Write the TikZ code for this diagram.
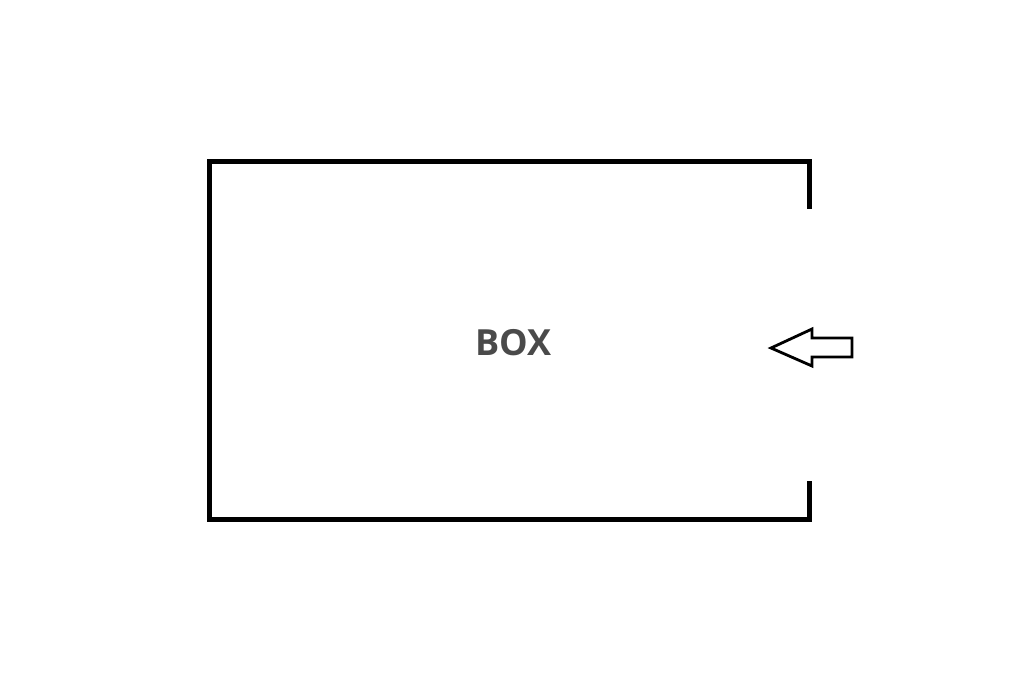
\documentclass[tikz,border=0pt]{standalone}
\usepackage{fontspec}
\setsansfont{Open Sans}
\usepackage{tikz}
\usetikzlibrary{positioning,calc}
\definecolor{labelgray}{HTML}{4A4A4A}
\tikzset{wall/.style={draw=black,line width=5.5pt,line cap=rect},
         pointer/.style={draw=black,line width=2.8pt,fill=white,line join=miter}}

\begin{document}
\begin{tikzpicture}[x=1pt, y=-1pt]
        \useasboundingbox (0,0) rectangle (1024,683);
        \coordinate (TR) at (809.5,161.5);
        \coordinate (TL) at (209.5,161.5);
        \coordinate (BL) at (209.5,519.5);
        \coordinate (BR) at (809.5,519.5);
        \node[font=\sffamily\bfseries\fontsize{36}{40}\selectfont,text=labelgray] (box) at (513.5,343) {BOX};
        \draw[wall] ($(TR)+(0,45)$) -- (TR) -- (TL) -- (BL) -- (BR) -- ($(BR)+(0,-36)$);
        \draw[pointer] (771,348) -- (812,329) -- (812,338) -- (852,338) -- (852,357) -- (812,357) -- (812,366) -- cycle;
\end{tikzpicture}
\end{document}
